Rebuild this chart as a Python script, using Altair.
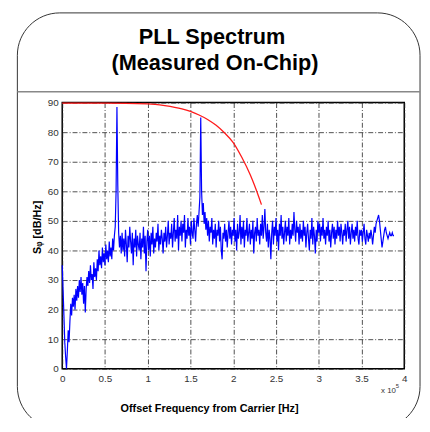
import altair as alt
import pandas as pd

# ---- data ----
blue_step_hz = 1000
blue_db = [
    35, 27, 18, 9, 4, 0, 6, 13, 9, 16,
    22, 18, 24, 21, 25, 20, 27, 23, 28, 24,
    30, 26, 31, 25, 29, 22, 28, 19, 27, 31,
    28, 33, 29, 35, 30, 32, 27, 36, 31, 34,
    30, 37, 33, 40, 35, 38, 34, 41, 36, 39,
    35, 42, 37, 40, 36, 43, 38, 41, 37, 44,
    40, 45, 48, 60, 88.5, 62, 46, 41, 45, 39,
    46, 40, 44, 38, 47, 42, 36, 45, 41, 48,
    43, 39, 46, 35, 44, 41, 47, 38, 45, 42,
    40, 46, 37, 44, 41, 48, 39, 45, 33, 43,
    47, 40, 45, 38, 46, 42, 48, 39, 44, 41,
    46, 43, 49, 40, 45, 42, 47, 44, 39, 46,
    43, 48, 41, 45, 50, 42, 46, 44, 49, 41,
    46, 51, 43, 47, 44, 52, 40, 48, 45, 50,
    43, 49, 46, 52, 41, 47, 44, 51, 45, 48,
    42, 50, 46, 44, 51, 47, 43, 49, 52, 48,
    53, 58, 85, 60, 52, 56, 49, 53, 47, 51,
    45, 50, 43, 48, 46, 51, 42, 47, 44, 49,
    41, 47, 45, 50, 43, 48, 40, 37, 46, 44,
    49, 43, 47, 41, 46, 50, 44, 48, 42, 47,
    45, 51, 43, 47, 40, 49, 44, 46, 52, 42,
    48, 44, 50, 41, 47, 45, 51, 43, 46, 49,
    42, 47, 44, 50, 39, 46, 48, 43, 51, 45,
    47, 42, 49, 45, 52, 44, 48, 54, 46, 43,
    49, 41, 47, 44, 37, 46, 50, 42, 48, 45,
    51, 43, 47, 40, 49, 45, 52, 44, 48, 42,
    46, 50, 43, 48, 45, 51, 42, 47, 44, 49,
    45, 53, 47, 43, 50, 46, 48, 42, 49, 44,
    47, 43, 50, 45, 48, 41, 46, 49, 44, 40,
    47, 44, 51, 42, 48, 45, 39, 47, 43, 50,
    46, 49, 43, 48, 45, 51, 44, 47, 42, 48,
    45, 50, 43, 47, 41, 46, 49, 44, 48, 42,
    47, 44, 50, 45, 48, 43, 49, 46, 42, 47,
    45, 49, 43, 47, 50, 44, 48, 42, 46, 49,
    44, 47, 43, 48, 45, 50, 44, 42, 47, 45,
    47, 43, 46, 49, 44, 42, 47, 45, 43, 46,
    44, 47, 45, 42, 45, 48, 46, 49, 50, 51,
    52, 50, 47, 44, 41, 43, 45, 47, 48, 46,
    45, 44, 45, 46, 45, 45, 46, 45, 45,
]
blue_f = [i * blue_step_hz for i in range(len(blue_db))]

red_f = [0, 50000, 100000, 120000, 140000, 150000, 160000, 170000,
         180000, 190000, 200000, 210000, 220000, 230000, 233000]
red_db = [89.8, 89.8, 89.6, 89.0, 87.9, 87.0, 85.8, 84.3,
          82.3, 79.7, 76.5, 71.5, 65.5, 58.0, 55.5]

x_ticks = [0, 50000, 100000, 150000, 200000, 250000, 300000, 350000, 400000]
y_ticks = [0, 10, 20, 30, 40, 50, 60, 70, 80, 90]

title_lines = ["PLL Spectrum", "(Measured On-Chip)"]
x_title = "Offset Frequency from Carrier [Hz]"
y_title = "S\u1d69 [dB/Hz]"

W, H = 347, 270
FONT = "Liberation Sans"

blue_df = pd.DataFrame({"f": blue_f, "db": blue_db})
red_df = pd.DataFrame({"f": red_f, "db": red_db})
one = pd.DataFrame({"k": [0]})

x_scale = alt.Scale(domain=[0, 400000], nice=False)
y_scale = alt.Scale(domain=[0, 90], nice=False)

x_axis = alt.Axis(values=x_ticks, labelExpr="toString(datum.value / 100000)",
                  grid=True, ticks=False, domain=False, labelPadding=5,
                  labelFontSize=10, labelColor="#333", labelFont=FONT,
                  title=x_title, titleFont=FONT, titleFontSize=11,
                  titleFontWeight="bold", titleColor="#000",
                  titleX=149, titleY=43, titleBaseline="alphabetic",
                  labelFlush=False, labelOverlap=False)
y_axis = alt.Axis(values=y_ticks, grid=True, ticks=False, domain=False,
                  labelPadding=4, labelFontSize=10, labelColor="#333",
                  labelFont=FONT, title=y_title, titleFont=FONT,
                  titleFontSize=11, titleFontWeight="bold", titleColor="#000",
                  titlePadding=5, titleY=126, labelFlush=False,
                  labelOverlap=False)

blue = alt.Chart(blue_df).mark_line(color="#0000ff", strokeWidth=1.2).encode(
    x=alt.X("f:Q", scale=x_scale, axis=x_axis),
    y=alt.Y("db:Q", scale=y_scale, axis=y_axis),
)
red = alt.Chart(red_df).mark_line(color="#ff1a1a", strokeWidth=1.3,
                                  interpolate="monotone").encode(
    x=alt.X("f:Q", scale=x_scale, axis=x_axis),
    y=alt.Y("db:Q", scale=y_scale, axis=y_axis),
)

frame = alt.Chart(one).mark_rect(fillOpacity=0, stroke="#333", strokeWidth=1,
                                 cornerRadius=43).encode(
    x=alt.value(-45.5), x2=alt.value(363), y=alt.value(-91), y2=alt.value(331)
)
sep = alt.Chart(one).mark_rule(color="#888", strokeWidth=1.5).encode(
    x=alt.value(-45.5), x2=alt.value(363), y=alt.value(-11)
)
t1 = alt.Chart(one).mark_text(text=title_lines[0], font=FONT, fontSize=22,
                              fontWeight="bold", baseline="alphabetic",
                              align="center", color="#000").encode(
    x=alt.value(152), y=alt.value(-59)
)
t2 = alt.Chart(one).mark_text(text=title_lines[1], font=FONT, fontSize=22,
                              fontWeight="bold", baseline="alphabetic",
                              align="center", color="#000").encode(
    x=alt.value(155), y=alt.value(-33)
)
mult = alt.Chart(one).mark_text(text="x 10", font=FONT, fontSize=8,
                                baseline="alphabetic", align="center",
                                color="#333").encode(
    x=alt.value(331), y=alt.value(295)
)
expo = alt.Chart(one).mark_text(text="5", font=FONT, fontSize=6,
                                baseline="alphabetic", align="center",
                                color="#333").encode(
    x=alt.value(340), y=alt.value(290)
)

chart = alt.layer(frame, sep, t1, t2, blue, red, mult, expo).properties(
    width=W, height=H,
    autosize=alt.AutoSizeParams(type="none"),
    padding={"left": 55, "top": 93, "right": 18, "bottom": 47},
    background="white",
).configure_view(
    stroke="#000", strokeWidth=1.5
).configure_axis(
    gridColor="#222", gridDash=[5, 2, 1, 2], gridWidth=0.8, gridOpacity=1
)

chart.save("out.html", embed_options={"renderer": "svg", "actions": False})
